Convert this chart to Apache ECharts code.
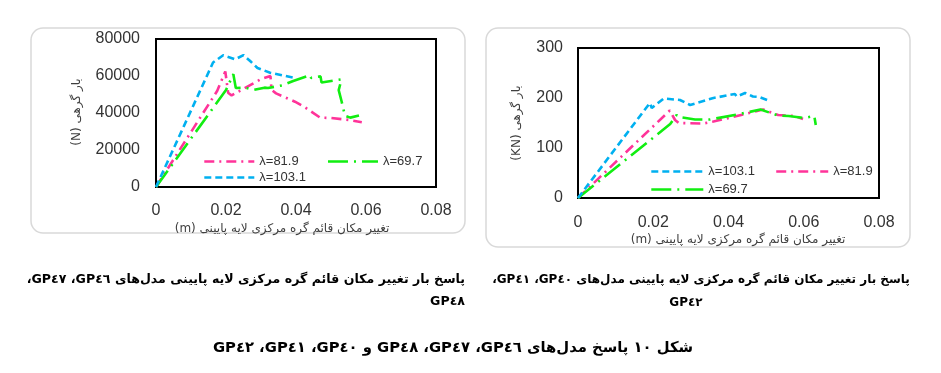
<!DOCTYPE html>
<html>
<head>
<meta charset="utf-8">
<script src="https://cdn.jsdelivr.net/npm/echarts@6/dist/echarts.min.js"></script>
<style>
html,body{margin:0;padding:0;background:#fff;}
#chart{width:941px;height:373px;}
</style>
</head>
<body>
<div id="chart"></div>
<script>
// ---- tick labels ----
const xTicks = [0, 0.02, 0.04, 0.06, 0.08];
const yTicksLeft = [0, 20000, 40000, 60000, 80000];
const yTicksRight = [0, 100, 200, 300];

// ---- series names ----
const names = ['λ=103.1', 'λ=81.9', 'λ=69.7'];

// ---- left chart (GP46, GP47, GP48), load in N ----
const left_103_1 = [[0,0],[0.0163,67300],[0.0192,71200],[0.0226,69000],[0.0250,71300],[0.0269,68100],[0.0290,64300],[0.0326,61800],[0.0394,59000]];
const left_81_9 = [[0,0],[0.0175,52000],[0.0198,62500],[0.0206,51000],[0.0216,49500],[0.0273,55500],[0.0300,58300],[0.0327,60000],[0.0330,52500],[0.0343,50600],[0.0397,46100],[0.0423,43400],[0.0469,37500],[0.0500,37300],[0.0554,36200],[0.0588,35000]];
const left_69_7 = [[0,0],[0.0200,52400],[0.0221,61000],[0.0228,53500],[0.0254,53700],[0.0280,52500],[0.0310,53700],[0.0320,53500],[0.0362,55000],[0.0392,57300],[0.0440,60500],[0.0443,59000],[0.0470,59800],[0.0473,56500],[0.0530,58200],[0.0522,52400],[0.0530,46500],[0.0540,38500],[0.0535,37500],[0.0555,37500],[0.0580,38700]];

// ---- right chart (GP40, GP41, GP42), load in kN ----
const right_103_1 = [[0,0],[0.0191,190],[0.0196,180],[0.0228,199],[0.0271,196],[0.0298,186],[0.0360,200],[0.0417,208],[0.0422,203],[0.0444,210],[0.0465,203],[0.0482,202],[0.0506,195]];
const right_81_9 = [[0,0],[0.0244,175],[0.0258,156],[0.0268,150],[0.0333,149],[0.0360,153],[0.0440,167],[0.0492,177],[0.0532,166],[0.0577,164],[0.0598,158]];
const right_69_7 = [[0,0],[0.0245,148],[0.0262,166],[0.0268,162],[0.0311,157],[0.0351,157],[0.0430,168],[0.0485,177],[0.0532,165],[0.0560,164],[0.0600,160],[0.0628,164],[0.0632,146]];

// ---- texts ----
const RLE = '\u202B', PDF = '\u202C';
const rtl = s => RLE + s + PDF;
const xTitle = 'تغییر مکان قائم گره مرکزی لایه پایینی (m)';
const yTitleLeft = 'بار گرهی (N)';
const yTitleRight = 'بار گرهی (KN)';
const capLeft1 = 'پاسخ بار تغییر مکان قائم گره مرکزی لایه پایینی مدل‌های GP٤٦، GP٤٧،';
const capLeft2 = 'GP٤٨';
const capRight1 = 'پاسخ بار تغییر مکان قائم گره مرکزی لایه پایینی مدل‌های GP٤٠، GP٤١،';
const capRight2 = 'GP٤٢';
const capMain = 'شکل ١٠ پاسخ مدل‌های GP٤٦، GP٤٧، GP٤٨ و GP٤٠، GP٤١، GP٤٢';

const colors = {'λ=103.1':'#00B0F0','λ=81.9':'#FF3399','λ=69.7':'#11EE11'};
const dashes = {'λ=103.1':[7,4],'λ=81.9':[10,5,2,5],'λ=69.7':[20,6,2,6]};

const tickFont = 'Liberation Sans';
const txt = '#333';

function mkSeries(name, data, idx){
  return {
    type:'line', name:name, data:data, xAxisIndex:idx, yAxisIndex:idx,
    symbol:'none', showSymbol:false, animation:false,
    color: colors[name],
    lineStyle:{color:colors[name], width:2.6, type:dashes[name]}
  };
}
function mkX(idx, margin){
  return {type:'value', gridIndex:idx, min:xTicks[0], max:xTicks[xTicks.length-1], interval:xTicks[1]-xTicks[0],
    axisLine:{show:false}, axisTick:{show:false}, splitLine:{show:false},
    axisLabel:{margin:margin, color:txt, fontSize:16, fontFamily:tickFont, formatter:v=>String(v)}};
}
function mkY(idx, ticks, margin){
  return {type:'value', gridIndex:idx, min:ticks[0], max:ticks[ticks.length-1], interval:ticks[1]-ticks[0],
    axisLine:{show:false}, axisTick:{show:false}, splitLine:{show:false},
    axisLabel:{margin:margin, color:txt, fontSize:16, fontFamily:tickFont, formatter:v=>String(v)}};
}
function mkLegend(data, left, top, gap, w){
  return {data:data, left:left, top:top, orient:'horizontal', itemGap:gap, itemWidth:w, itemHeight:14, padding:0,
    selectedMode:false, itemStyle:{opacity:0}, lineStyle:{width:2.6},
    textStyle:{color:txt, fontSize:13, fontFamily:tickFont}};
}

const chart = echarts.init(document.getElementById('chart'), null, {renderer:'canvas'});
const option = {
  animation:false,
  backgroundColor:'#fff',
  grid:[
    {left:156, top:39, width:280, height:148, show:true, borderColor:'#000', borderWidth:2, backgroundColor:'transparent'},
    {left:578, top:48, width:301, height:150, show:true, borderColor:'#000', borderWidth:2, backgroundColor:'transparent'}
  ],
  xAxis:[mkX(0,16), mkX(1,17)],
  yAxis:[mkY(0,yTicksLeft,16), mkY(1,yTicksRight,15)],
  legend:[
    mkLegend([names[1], names[2]], 203, 155, 28, 50),
    mkLegend([names[0]], 203, 171, 28, 50),
    mkLegend([names[0], names[1]], 650, 165, 20, 52),
    mkLegend([names[2]], 650, 183, 20, 52)
  ],
  series:[
    mkSeries(names[1], left_81_9, 0),
    mkSeries(names[2], left_69_7, 0),
    mkSeries(names[0], left_103_1, 0),
    mkSeries(names[1], right_81_9, 1),
    mkSeries(names[2], right_69_7, 1),
    mkSeries(names[0], right_103_1, 1)
  ],
  graphic:[
    {type:'rect', shape:{x:31, y:28, width:434, height:205, r:12}, style:{fill:'none', stroke:'#d9d9d9', lineWidth:1.5}, z:-1},
    {type:'rect', shape:{x:486, y:28, width:424, height:219, r:12}, style:{fill:'none', stroke:'#d9d9d9', lineWidth:1.5}, z:-1},
    {type:'text', x:282, y:229, style:{text:rtl(xTitle), fill:'#404040', font:'12px "DejaVu Sans"', align:'center', verticalAlign:'middle'}},
    {type:'text', x:738, y:240, style:{text:rtl(xTitle), fill:'#404040', font:'12px "DejaVu Sans"', align:'center', verticalAlign:'middle'}},
    {type:'text', x:77, y:112, rotation:Math.PI/2, style:{text:rtl(yTitleLeft), fill:'#404040', font:'12px "DejaVu Sans"', align:'center', verticalAlign:'middle'}},
    {type:'text', x:517, y:123, rotation:Math.PI/2, style:{text:rtl(yTitleRight), fill:'#404040', font:'12px "DejaVu Sans"', align:'center', verticalAlign:'middle'}},
    {type:'text', x:465, y:280, style:{text:rtl(capLeft1), fill:'#000', font:'bold 12.6px "DejaVu Sans"', align:'right', verticalAlign:'middle'}},
    {type:'text', x:465, y:302, style:{text:rtl(capLeft2), fill:'#000', font:'bold 12.6px "DejaVu Sans"', align:'right', verticalAlign:'middle'}},
    {type:'text', x:701, y:280, style:{text:rtl(capRight1), fill:'#000', font:'bold 12px "DejaVu Sans"', align:'center', verticalAlign:'middle'}},
    {type:'text', x:686, y:303, style:{text:rtl(capRight2), fill:'#000', font:'bold 12px "DejaVu Sans"', align:'center', verticalAlign:'middle'}},
    {type:'text', x:453, y:348, style:{text:rtl(capMain), fill:'#000', font:'bold 14.8px "DejaVu Sans"', align:'center', verticalAlign:'middle'}}
  ]
};
chart.setOption(option);
</script>
</body>
</html>
